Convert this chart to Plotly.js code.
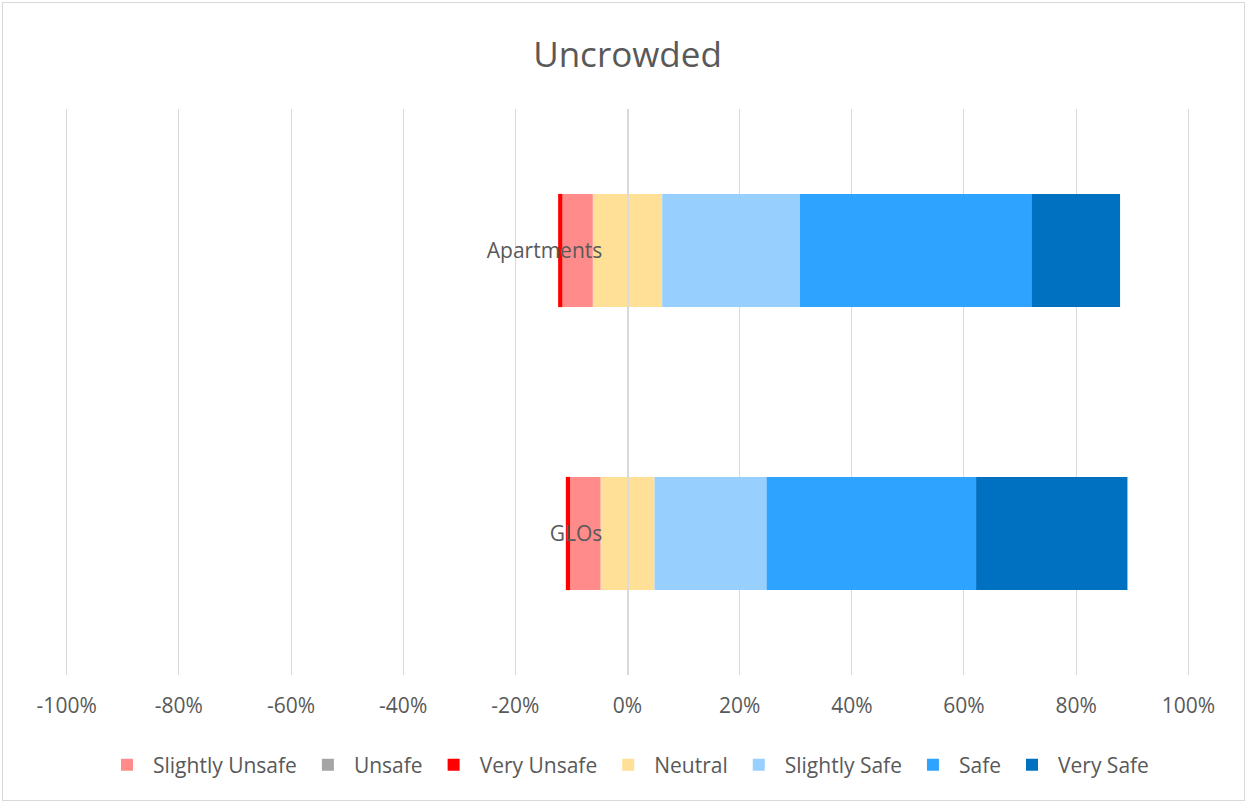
<!DOCTYPE html>
<html>
<head>
<meta charset="utf-8">
<script src="https://cdn.plot.ly/plotly-3.0.1.min.js"></script>
<style>
  html, body { margin: 0; padding: 0; background: #ffffff; }
  #frame { position: absolute; left: 2px; top: 2px; width: 1243px; height: 799px; border: 1px solid #d9d9d9; box-sizing: border-box; }
  #chart { position: absolute; left: 0; top: 0; width: 1247px; height: 804px; }
</style>
</head>
<body>
<div id="frame"></div>
<div id="chart"></div>
<script>
// Categories (top to bottom)
const categories = ['Apartments', 'GLOs'];

// Response shares (% of respondents)
const slightlyUnsafe = [5.41, 5.41];
const unsafe         = [0, 0];
const veryUnsafe     = [0.77, 0.77];
const neutral        = [12.38, 9.63];
const slightlySafe   = [24.55, 19.98];
const safe           = [41.28, 37.36];
const verySafe       = [15.81, 26.99];

const xTickVals = [-100, -80, -60, -40, -20, 0, 20, 40, 60, 80, 100];
const xTickText = ['-100%', '-80%', '-60%', '-40%', '-20%', '0%', '20%', '40%', '60%', '80%', '100%'];

const colors = {
  slightlyUnsafe: '#FF8B8B',
  unsafe: '#A5A5A5',
  veryUnsafe: '#FF0000',
  neutral: '#FFE096',
  slightlySafe: '#97D0FF',
  safe: '#2EA3FF',
  verySafe: '#0070C0'
};

const neg = a => a.map(v => -v);
const half = a => a.map(v => v / 2);

function bar(name, x, color, rank, showlegend) {
  return {
    type: 'bar', orientation: 'h', name: name,
    y: categories, x: x,
    marker: { color: color, line: { width: 0 } },
    legendrank: rank, showlegend: showlegend,
    hoverinfo: 'name+x'
  };
}

const traces = [
  bar('Neutral', neg(half(neutral)), colors.neutral, 4, true),
  bar('Slightly Unsafe', neg(slightlyUnsafe), colors.slightlyUnsafe, 1, true),
  bar('Unsafe', neg(unsafe), colors.unsafe, 2, true),
  bar('Very Unsafe', neg(veryUnsafe), colors.veryUnsafe, 3, true),
  bar('Neutral', half(neutral), colors.neutral, 4, false),
  bar('Slightly Safe', slightlySafe, colors.slightlySafe, 5, true),
  bar('Safe', safe, colors.safe, 6, true),
  bar('Very Safe', verySafe, colors.verySafe, 7, true)
];

const textColor = '#595959';
const fontFam = '"Open Sans", "DejaVu Sans", sans-serif';

const layout = {
  width: 1247, height: 804,
  paper_bgcolor: 'rgba(0,0,0,0)', plot_bgcolor: 'rgba(0,0,0,0)',
  margin: { l: 65, r: 57, t: 109, b: 129, pad: 0 },
  font: { family: fontFam, color: textColor, size: 21 },
  title: {
    text: 'Uncrowded',
    font: { family: fontFam, size: 35, color: textColor },
    x: 0.5, xanchor: 'center', xref: 'paper',
    y: 44, yref: 'container', yanchor: 'middle'
  },
  barmode: 'relative',
  bargap: 0.6,
  xaxis: {
    range: [-100.3, 100.3],
    tickvals: xTickVals, ticktext: xTickText,
    showgrid: true, gridcolor: '#d9d9d9', gridwidth: 1,
    zeroline: false, showline: false, ticks: '',
    ticklabelstandoff: 16,
    tickfont: { size: 21, color: textColor },
    fixedrange: true
  },
  yaxis: {
    autorange: 'reversed',
    anchor: 'free', position: 0.5,
    showline: true, linecolor: '#d9d9d9', linewidth: 1,
    showgrid: false, zeroline: false, ticks: '',
    ticklabelstandoff: 21,
    tickfont: { size: 21, color: textColor },
    layer: 'above traces',
    fixedrange: true
  },
  showlegend: true,
  legend: {
    orientation: 'h',
    x: 0.5, xanchor: 'center',
    y: -0.159, yanchor: 'middle',
    traceorder: 'normal',
    font: { size: 21, color: textColor },
    itemwidth: 42
  }
};

Plotly.newPlot('chart', traces, layout, { displayModeBar: false, staticPlot: true });
</script>
</body>
</html>
